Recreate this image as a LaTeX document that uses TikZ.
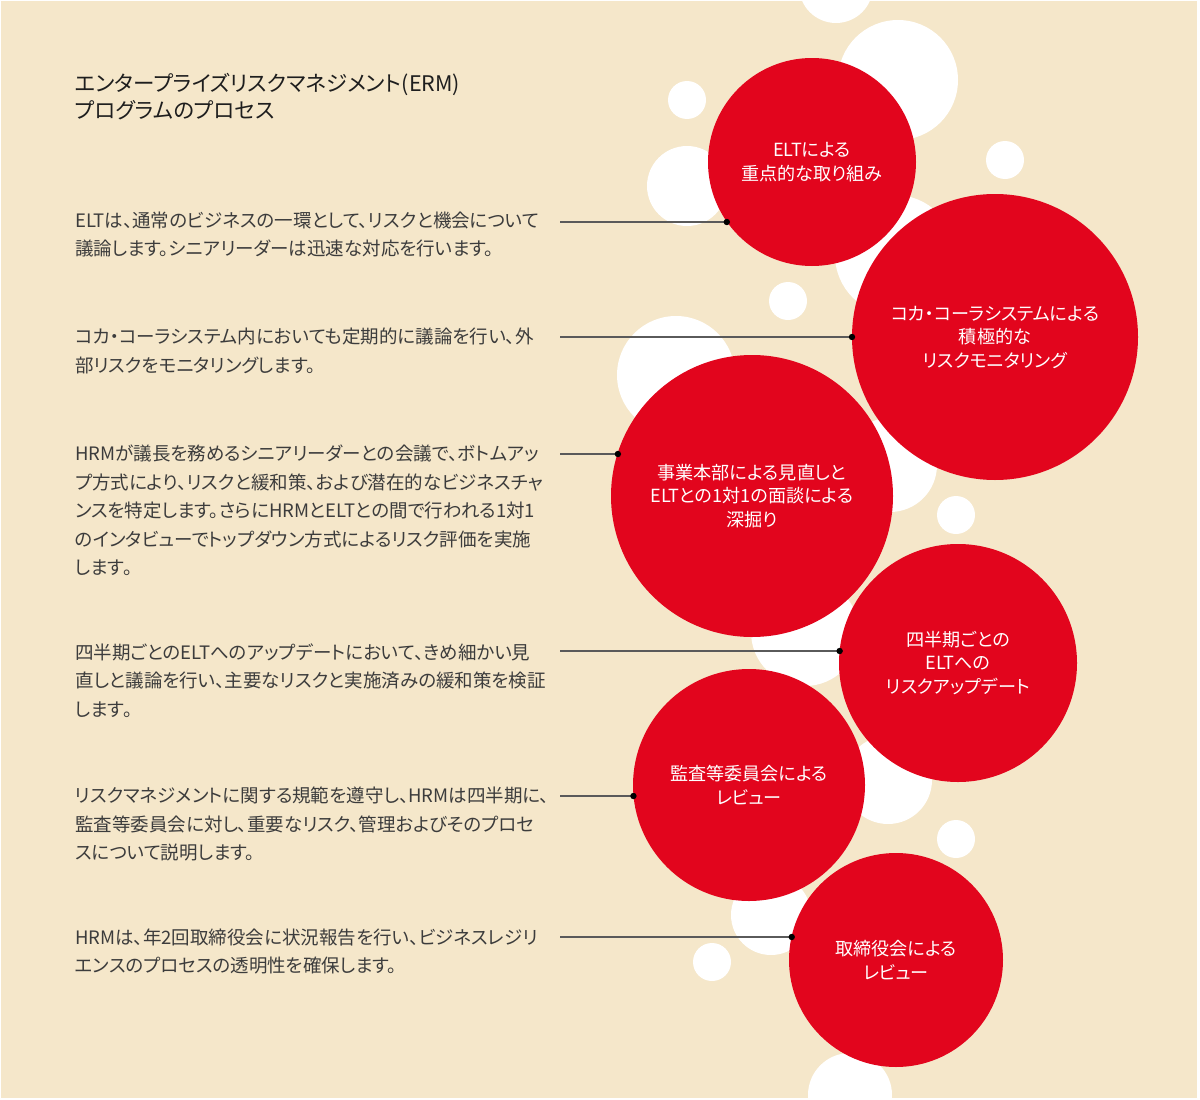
\documentclass[tikz,border=0pt]{standalone}
\usepackage{fontspec}
\newfontfamily\jp[RawFeature=+palt]{Noto Sans CJK JP}
\definecolor{bg}{HTML}{F5E7CA}
\definecolor{erred}{HTML}{E2051D}
\definecolor{bodytxt}{HTML}{3C3C3C}
\definecolor{titletxt}{HTML}{1E1E1E}
\definecolor{conncol}{HTML}{5A5A5A}
\tikzset{
  redc/.style={circle, fill=erred, inner sep=0pt, outer sep=0pt, text=white, align=center,
    font=\jp\fontsize{18.1}{23.5}\selectfont},
  bodytext/.style={anchor=west, inner sep=0pt, align=left, text=bodytxt,
    font=\jp\fontsize{18.5}{28.5}\selectfont},
  titletext/.style={anchor=west, inner sep=0pt, align=left, text=titletxt,
    font=\jp\fontsize{21.5}{27}\selectfont},
  conn/.style={draw=conncol, line width=1.1pt},
  dotmark/.style={fill=black},
  bubble/.style={fill=white}
}
\begin{document}
\begin{tikzpicture}[x=1pt,y=-1pt]
\useasboundingbox (0,0) rectangle (1200,1100);
\fill[white] (0,0) rectangle (1200,1100);
\fill[bg] (1,1) rectangle (1197,1098);
\begin{scope}
\clip (1,1) rectangle (1197,1098);
\fill[bubble] (836,-14) circle[radius=37pt];
\fill[bubble] (898,80) circle[radius=60pt];
\fill[bubble] (687,100) circle[radius=19pt];
\fill[bubble] (687,186) circle[radius=40pt];
\fill[bubble] (1005,160) circle[radius=19pt];
\fill[bubble] (895,255) circle[radius=60pt];
\fill[bubble] (788,301) circle[radius=19pt];
\fill[bubble] (676,375) circle[radius=59pt];
\fill[bubble] (890,465) circle[radius=47pt];
\fill[bubble] (956,515) circle[radius=19pt];
\fill[bubble] (805,632) circle[radius=54pt];
\fill[bubble] (888,780) circle[radius=44pt];
\fill[bubble] (956,839) circle[radius=19pt];
\fill[bubble] (771,915) circle[radius=40pt];
\fill[bubble] (712,962) circle[radius=19pt];
\fill[bubble] (850,1095) circle[radius=42pt];
\end{scope}

% red circles
\node[redc, minimum size=208pt] (c1) at (812,162) {ELTによる\\重点的な取り組み};
\node[redc, minimum size=286pt] (c2) at (995,337) {コカ・コーラシステムによる\\積極的な\\リスクモニタリング};
\node[redc, minimum size=282pt] (c3) at (752,496) {事業本部による見直しと\\ELTとの1対1の面談による\\深掘り};
\node[redc, minimum size=238pt] (c4) at (958,663) {四半期ごとの\\ELTへの\\リスクアップデート};
\node[redc, minimum size=232pt] (c5) at (749,785) {監査等委員会による\\レビュー};
\node[redc, minimum size=214pt] (c6) at (896,960) {取締役会による\\レビュー};

% title
\node[titletext] (title) at (75,96.5) {エンタープライズリスクマネジメント(ERM)\\プログラムのプロセス};

% descriptions
\node[bodytext] (t1) at (75,234.5) {ELTは、通常のビジネスの一環として、リスクと機会について\\議論します。シニアリーダーは迅速な対応を行います。};
\node[bodytext] (t2) at (75,351) {コカ・コーラシステム内においても定期的に議論を行い、外\\部リスクをモニタリングします。};
\node[bodytext] (t3) at (75,510.5) {HRMが議長を務めるシニアリーダーとの会議で、ボトムアッ\\プ方式により、リスクと緩和策、および潜在的なビジネスチャ\\ンスを特定します。さらにHRMとELTとの間で行われる1対1\\のインタビューでトップダウン方式によるリスク評価を実施\\します。};
\node[bodytext] (t4) at (75,680.5) {四半期ごとのELTへのアップデートにおいて、きめ細かい見\\直しと議論を行い、主要なリスクと実施済みの緩和策を検証\\します。};
\node[bodytext] (t5) at (75,824) {リスクマネジメントに関する規範を遵守し、HRMは四半期に、\\監査等委員会に対し、重要なリスク、管理およびそのプロセ\\スについて説明します。};
\node[bodytext] (t6) at (75,951.5) {HRMは、年2回取締役会に状況報告を行い、ビジネスレジリ\\エンスのプロセスの透明性を確保します。};

% connectors
\coordinate (s1) at (560,222);
\coordinate (s2) at (560,337);
\coordinate (s3) at (560,454);
\coordinate (s4) at (560,651);
\coordinate (s5) at (560,796);
\coordinate (s6) at (560,937);
\coordinate (d1) at (s1 -| c1.215.23);
\coordinate (d2) at (s2 -| c2.180);
\coordinate (d3) at (s3 -| c3.162.67);
\coordinate (d4) at (s4 -| c4.174.21);
\coordinate (d5) at (s5 -| c5.185.44);
\coordinate (d6) at (s6 -| c6.167.59);
\draw[conn] (s1) -- (d1);
\draw[conn] (s2) -- (d2);
\draw[conn] (s3) -- (d3);
\draw[conn] (s4) -- (d4);
\draw[conn] (s5) -- (d5);
\draw[conn] (s6) -- (d6);
\fill[dotmark] (d1) circle[radius=3.2pt];
\fill[dotmark] (d2) circle[radius=3.2pt];
\fill[dotmark] (d3) circle[radius=3.2pt];
\fill[dotmark] (d4) circle[radius=3.2pt];
\fill[dotmark] (d5) circle[radius=3.2pt];
\fill[dotmark] (d6) circle[radius=3.2pt];
\end{tikzpicture}
\end{document}
